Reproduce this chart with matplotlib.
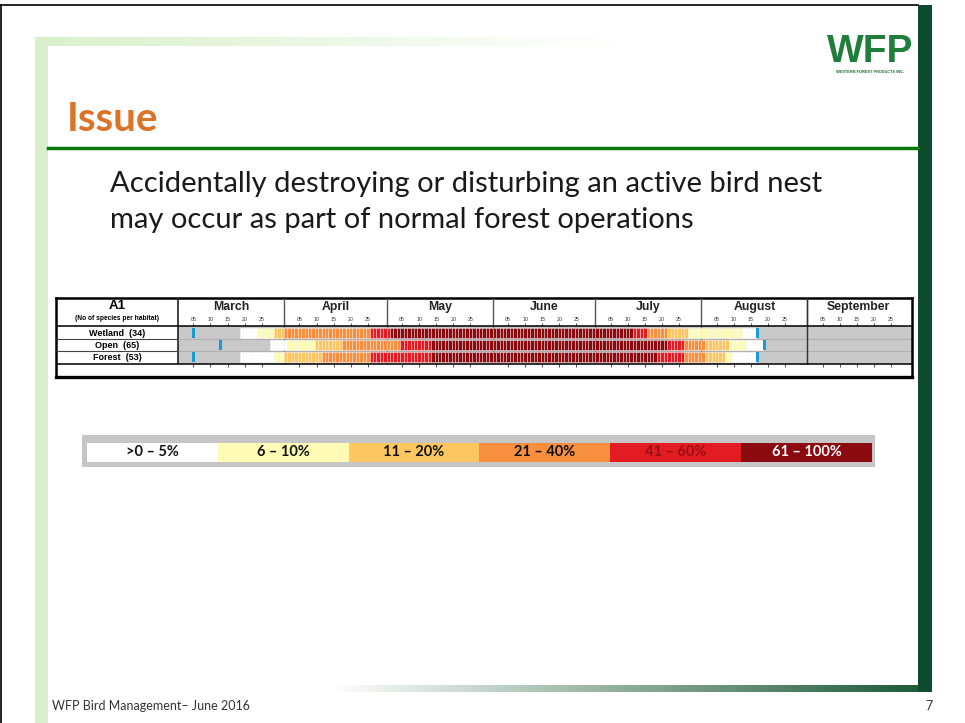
import numpy as np
import matplotlib.pyplot as plt
from matplotlib.patches import Rectangle

# Calendario de nidificacion (dia 1 = 1 de marzo)
months = ["March", "April", "May", "June", "July", "August", "September"]
month_days = [31, 30, 31, 30, 31, 31, 30]
day_labels = ["05", "10", "15", "20", "25"]

habitats = ["Wetland  (34)", "Open  (65)", "Forest  (53)"]

# inicio de cada tramo (dia) y nivel de la clase de porcentaje
wetland_start = [19, 24, 29, 32, 57, 63, 134, 138, 144, 150, 166]
wetland_level = [0, 1, 2, 3, 4, 5, 4, 3, 2, 1, 0]
wetland_end = 169
wetland_marks = [5, 170]

open_start = [28, 33, 41, 49, 66, 75, 144, 149, 155, 162, 167]
open_level = [0, 1, 2, 3, 4, 5, 4, 3, 2, 1, 0]
open_end = 171
open_marks = [13, 172]

forest_start = [19, 29, 32, 43, 57, 75, 141, 149, 155, 161, 163]
forest_level = [0, 1, 2, 3, 4, 5, 4, 3, 2, 1, 0]
forest_end = 169
forest_marks = [5, 170]

level_labels = [">0 – 5%", "6 – 10%", "11 – 20%", "21 – 40%", "41 – 60%", "61 – 100%"]
level_colors = ["#ffffff", "#fefcb4", "#fdc660", "#f78f3e", "#e31c23", "#8a0a10"]
level_text = ["#111111", "#111111", "#111111", "#111111", "#9a0f16", "#ffffff"]

slide_font = "Lato"
chart_font = "Liberation Sans"

fig = plt.figure(figsize=(9.65, 7.23), dpi=100)

# --- fondo de la diapositiva (coordenadas en pixeles) ---
bg = fig.add_axes([0, 0, 1, 1])
bg.axis("off")
bg.plot([0, 918], [5, 5], color="black", lw=1.2)
bg.plot([1, 1], [5, 723], color="black", lw=1.2)
bg.add_patch(Rectangle((35, 37), 13, 686, color="#d9f1cb", lw=0))
g = np.linspace(0, 1, 256)[:, None]
c0 = np.array([0.85, 0.945, 0.80])
top = (c0 + (1 - c0) * g)[None, :, :]
bg.imshow(top, extent=(35, 620, 46, 37), aspect="auto")
c1 = np.array([0.12, 0.36, 0.22])
bot = (np.ones(3) + (c1 - 1) * g)[None, :, :]
bg.imshow(bot, extent=(330, 918, 692, 685), aspect="auto")
bg.add_patch(Rectangle((918, 5), 14, 687, color="#0d4b2e", lw=0))
bg.plot([48, 918], [148, 148], color="#077a07", lw=2.5)

bg.text(67, 131, "Issue", fontsize=29, fontweight="bold", color="#dd7326",
        family=slide_font, va="baseline")
bg.text(110, 192, "Accidentally destroying or disturbing an active bird nest",
        fontsize=21, color="#1a1a1a", family=slide_font, va="baseline")
bg.text(110, 228, "may occur as part of normal forest operations",
        fontsize=21, color="#1a1a1a", family=slide_font, va="baseline")
bg.text(52, 710, "WFP Bird Management– June 2016", fontsize=9, color="#333333",
        family=slide_font, va="baseline")
bg.text(925, 710, "7", fontsize=9, color="#333333", family=slide_font, va="baseline")

# logo
bg.text(870, 62, "WFP", fontsize=28, fontweight="bold", color="#1f7f3a",
        family=chart_font, ha="center", va="baseline")
bg.text(870, 72, "WESTERN FOREST PRODUCTS INC.", fontsize=2.8, fontweight="bold",
        color="#1f6a2c", family=chart_font, ha="center", va="center")

bg.set_xlim(0, 965)
bg.set_ylim(723, 0)

# --- tabla del calendario ---
ax = fig.add_axes([56 / 965, 1 - 377 / 723, 856 / 965, 79 / 723])
x0, x1 = -35.67, 214.6
ax.set_xlim(x0, x1)
ax.set_ylim(79, 0)
ax.set_xticks([])
ax.set_yticks([])
for s in ax.spines.values():
    s.set_linewidth(1.8)
ax.spines["bottom"].set_linewidth(2.4)

starts = np.concatenate([[0], np.cumsum(month_days)])
row_y = [35, 47, 59]

ax.add_patch(Rectangle((0, 28), x1, 38, color="#c9c9c9", lw=0, zorder=0))
ax.hlines([41, 53], 0, x1, color="#b0b0b0", lw=0.8, zorder=1)
ax.vlines(starts[1:-1], 28, 66, color="#808080", lw=0.8, zorder=1)

rows = [
    (wetland_start, wetland_level, wetland_end, wetland_marks),
    (open_start, open_level, open_end, open_marks),
    (forest_start, forest_level, forest_end, forest_marks),
]
for y, (st, lv, end, marks) in zip(row_y, rows):
    bounds = st[1:] + [end + 1]
    days, cols = [], []
    for a, b, l in zip(st, bounds, lv):
        for d in range(a, b):
            days.append(d)
            cols.append(level_colors[l])
    days = np.array(days)
    ax.barh(y, 1, left=days - 1, height=10, color=cols,
            edgecolor=(1, 1, 1, 0.45), linewidth=0.6, zorder=2)
    ax.barh(y, 0.75, left=np.array(marks) - 0.875, height=10,
            color="#1a9bd7", lw=0, zorder=3)

ax.vlines(starts[1:-1], 0, 28, color="#555555", lw=1.0, zorder=4)
ax.vlines(starts[6], 0, 66, color="#333333", lw=1.0, zorder=4)
ax.vlines(0, 0, 66, color="#222222", lw=1.2, zorder=4)
ax.hlines([28, 66], x0, x1, color="#111111", lw=1.2, zorder=4)
ax.hlines([41, 53], x0, 0, color="#444444", lw=0.8, zorder=4)

for i, name in enumerate(months):
    ax.text((starts[i] + starts[i + 1]) / 2, 9, name, ha="center", va="center",
            fontsize=8.8, fontweight="bold", family=chart_font, color="#222222")
    for k, lab in enumerate(day_labels):
        xd = starts[i] + 5 * (k + 1) - 0.5
        ax.text(xd, 21.5, lab, ha="center", va="center", fontsize=3.8,
                family=chart_font, color="#333333")
        ax.vlines(xd, 25, 28, color="#333333", lw=0.6)
        ax.vlines(xd, 66, 69, color="#333333", lw=0.6)

ax.text(x0 / 2, 8, "A1", ha="center", va="center", fontsize=9.5,
        fontweight="bold", family=chart_font)
ax.text(x0 / 2, 20.5, "(No of species per habitat)", ha="center", va="center",
        fontsize=4.8, fontweight="bold", family=chart_font)
for y, h in zip(row_y, habitats):
    ax.text(x0 / 2, y, h, ha="center", va="center", fontsize=6.5,
            fontweight="bold", family=chart_font)

# --- leyenda de colores ---
lg = fig.add_axes([82 / 965, 1 - 467 / 723, 793 / 965, 32 / 723])
lg.set_facecolor("#c6c6c6")
for s in lg.spines.values():
    s.set_visible(False)
lg.set_xticks([])
lg.set_yticks([])
lg.set_xlim(-0.538, 5.523)
lg.set_ylim(0, 32)
lg.bar(np.arange(6), 19, bottom=5, width=1, color=level_colors, lw=0)
for i, lab in enumerate(level_labels):
    lg.text(i, 14.5, lab, ha="center", va="center", fontsize=10.5,
            fontweight="bold", family=slide_font, color=level_text[i])

fig.savefig("out.png", dpi=100)
